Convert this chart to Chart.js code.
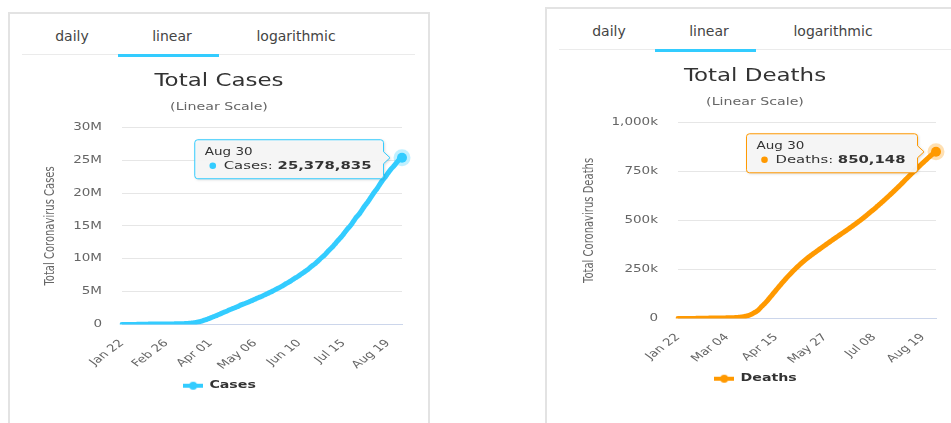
<!DOCTYPE html>
<html>
<head>
<meta charset="utf-8">
<script src="https://cdn.jsdelivr.net/npm/chart.js@4.4.1/dist/chart.umd.min.js"></script>
<style>
  html, body { margin: 0; background: #fff; }
  body { position: relative; width: 951px; height: 423px; overflow: hidden; font-family: "DejaVu Sans", sans-serif; }
  .card { position: absolute; height: 440px; border: 2px solid #e3e3e3; box-sizing: border-box; }
  .tabs { position: absolute; height: 36px; border-bottom: 1px solid #ebebeb; }
  .tab { position: absolute; width: 100px; line-height: 36px; text-align: center; font-size: 14px; color: #444; }
  .underline { position: absolute; height: 3px; background: #33ccff; }
  .chart-box { position: absolute; }
</style>
</head>
<body>
  <div class="card" style="left:8px; top:12px; width:422px"></div>
  <div class="tabs" style="left:22px; top:18px; width:393px"></div>
  <span class="tab" style="left:22px; top:18px">daily</span>
  <span class="tab" style="left:122px; top:18px">linear</span>
  <span class="tab" style="left:246px; top:18px">logarithmic</span>
  <div class="underline" style="left:118px; top:54px; width:101px"></div>
  <div class="chart-box" style="left:9px; top:60px; width:420px; height:341px"><canvas id="cases-chart"></canvas></div>

  <div class="card" style="left:545px; top:7px; width:440px"></div>
  <div class="tabs" style="left:559px; top:13px; width:392px"></div>
  <span class="tab" style="left:559px; top:13px">daily</span>
  <span class="tab" style="left:659px; top:13px">linear</span>
  <span class="tab" style="left:783px; top:13px">logarithmic</span>
  <div class="underline" style="left:655px; top:49px; width:101px"></div>
  <div class="chart-box" style="left:546px; top:55px; width:418px; height:339px"><canvas id="deaths-chart"></canvas></div>

<script>
// daily totals, Jan 22 .. Aug 30
const totalCases = [
  580, 845, 1320, 2010, 2800, 4580, 6060, 7820, 9830, 11950,
  14550, 17390, 20630, 24550, 28280, 31530, 34880, 37560, 40550, 43100, 45170, 60380, 66890, 69030, 71230,
  73270, 75150, 75650, 76200, 76840, 78580, 78970, 79560, 80410, 81360, 82740, 84120, 86010, 88370,
  90310, 92840, 95120, 97890, 101780, 105850, 109990, 114290, 118620, 125850, 128350, 145210, 156100, 167450,
  181530, 197150, 214910, 242710, 272170, 304980, 336960, 378230, 418040, 467650, 529590, 593290, 660690,
  720120, 782370, 857490, 932610,
  1015000, 1098000, 1174000, 1252000, 1323000, 1396000, 1476000, 1563000, 1653000, 1737000,
  1832000, 1903000, 1976000, 2056000, 2152000, 2240000, 2317000, 2401000, 2472000, 2549000,
  2625000, 2708000, 2795000, 2897000, 2986000, 3064000, 3128000, 3195000, 3269000, 3348000,
  3431000, 3517000, 3595000, 3672000, 3758000, 3849000, 3942000, 4032000, 4117000, 4192000,
  4268000, 4353000, 4446000, 4542000, 4638000, 4728000, 4809000, 4899000, 4995000, 5097000,
  5203000, 5308000, 5405000, 5504000, 5593000, 5688000, 5793000, 5909000, 6034000, 6163000, 6267000,
  6373000, 6490000, 6612000, 6740000, 6870000, 6999000, 7112000, 7215000, 7337000, 7474000,
  7611000, 7743000, 7878000, 8007000, 8141000, 8284000, 8426000, 8574000, 8757000, 8914000,
  9049000, 9186000, 9354000, 9523000, 9705000, 9897000, 10083000, 10247000, 10414000, 10585000,
  10795000, 11003000, 11218000, 11414000, 11597000, 11790000, 12007000, 12227000, 12456000, 12687000,
  12905000, 13109000, 13318000, 13550000, 13796000, 14050000, 14306000, 14545000, 14757000, 14973000,
  15218000, 15504000, 15787000, 16073000, 16333000, 16543000, 16763000, 17016000, 17305000, 17596000, 17889000,
  18150000, 18400000, 18650000, 18930000, 19220000, 19520000, 19820000, 20100000, 20350000, 20600000,
  20880000, 21180000, 21480000, 21770000, 22040000, 22280000, 22510000, 22780000, 23060000, 23330000,
  23580000, 23800000, 24000000, 24220000, 24450000, 24700000, 24930000, 25120000, 25270000, 25378835,
];

const totalDeaths = [
  17, 25, 41, 56, 80, 106, 132, 170, 213, 259,
  304, 362, 426, 492, 565, 638, 724, 813, 910, 1018, 1115, 1261, 1383, 1526, 1669,
  1775, 1873, 2009, 2126, 2247, 2360, 2460, 2618, 2699, 2763, 2800, 2858, 2924, 2977,
  3050, 3117, 3202, 3285, 3387, 3494, 3599, 3827, 4025, 4296, 4628, 5078, 5453, 5835, 6516, 7143,
  7991, 8977, 10038, 11393, 13061, 14770, 16629, 18933, 22052, 24997, 28365, 31819, 35359, 39636, 44507,
  50324, 56809, 62926, 68909, 74624, 80900, 87500, 94300, 101500, 108600,
  115800, 123000, 130200, 137400, 144600, 151800, 159000, 166000, 173000, 180000,
  186800, 193500, 200200, 206800, 213300, 219700, 226000, 232200, 238300, 244300,
  250200, 256000, 261700, 267300, 272800, 278200, 283500, 288700, 293800, 298800,
  303700, 308500, 313200, 317800, 322300, 326700, 331000, 335300, 339600, 343900,
  348200, 352500, 356800, 361100, 365400, 369700, 374000, 378200, 382400, 386600, 390800,
  395000, 399100, 403200, 407300, 411400, 415500, 419600, 423700, 427800, 431900,
  436000, 440100, 444200, 448300, 452400, 456600, 460800, 465000, 469300, 473600,
  477900, 482300, 486700, 491100, 495600, 500100, 504600, 509200, 513800, 518600,
  523600, 528600, 533800, 538700, 543500, 548300, 553100, 557900, 563200, 568500,
  573800, 578900, 584000, 589300, 594600, 599900, 605300, 610700, 616100, 621600,
  627100, 632700, 638300, 643900, 649500, 655200, 660900, 666600, 672400, 678300, 684300,
  690300, 696300, 702300, 708300, 714300, 720300, 726200, 732100, 738000, 743800,
  749600, 755400, 761200, 766900, 772600, 778300, 784000, 789600, 795200, 800700,
  806200, 811700, 817100, 822500, 827900, 833300, 838100, 842500, 846500, 850148,
];

const caseTickLabels = ["Jan 22", "Feb 26", "Apr 01", "May 06", "Jun 10", "Jul 15", "Aug 19"];
const deathTickLabels = ["Jan 22", "Mar 04", "Apr 15", "May 27", "Jul 08", "Aug 19"];

const monthNames = ["Jan", "Feb", "Mar", "Apr", "May", "Jun", "Jul", "Aug", "Sep", "Oct", "Nov", "Dec"];
const days = [];
for (let d = new Date(2020, 0, 22); days.length < totalCases.length; d.setDate(d.getDate() + 1)) {
  days.push(`${monthNames[d.getMonth()]} ${String(d.getDate()).padStart(2, "0")}`);
}

Chart.defaults.font.family = '"DejaVu Sans", sans-serif';
Chart.defaults.color = "#666";

// the reference screenshot has all chart text stretched sideways
const TEXT_STRETCH = 1.35;

const textStretch = {
  id: "textStretch",
  beforeInit(chart) {
    const ctx = chart.ctx;
    const fill = ctx.fillText.bind(ctx);
    const measure = ctx.measureText.bind(ctx);
    ctx.fillText = (text, x, y, maxWidth) => {
      const m = ctx.getTransform();
      const p = m.transformPoint(new DOMPoint(x, y));
      ctx.save();
      ctx.setTransform(new DOMMatrix().translate(p.x, 0).scale(TEXT_STRETCH, 1).translate(-p.x, 0).multiply(m));
      if (maxWidth === undefined) fill(text, x, y);
      else fill(text, x, y, maxWidth / TEXT_STRETCH);
      ctx.restore();
    };
    ctx.measureText = (text) => {
      const m = measure(text);
      return {
        width: m.width * TEXT_STRETCH,
        actualBoundingBoxAscent: m.actualBoundingBoxAscent,
        actualBoundingBoxDescent: m.actualBoundingBoxDescent,
        actualBoundingBoxLeft: m.actualBoundingBoxLeft * TEXT_STRETCH,
        actualBoundingBoxRight: m.actualBoundingBoxRight * TEXT_STRETCH,
      };
    };
  },
};

// hovered last point with its callout, like the highcharts tooltip
const lastPointTooltip = {
  id: "lastPointTooltip",
  afterDraw(chart) {
    const ctx = chart.ctx;
    const ds = chart.data.datasets[0];
    const meta = chart.getDatasetMeta(0);
    const i = meta.data.length - 1;
    const { x, y } = meta.data[i].getProps(["x", "y"], true);
    const color = ds.borderColor;

    ctx.save();
    ctx.globalAlpha = 0.3;
    ctx.fillStyle = color;
    ctx.beginPath();
    ctx.arc(x, y, 8.5, 0, Math.PI * 2);
    ctx.fill();
    ctx.globalAlpha = 1;
    ctx.beginPath();
    ctx.arc(x, y, 5, 0, Math.PI * 2);
    ctx.fill();

    const name = ds.label + ": ";
    const value = ds.data[i].toLocaleString("en-US");
    ctx.font = '11px "DejaVu Sans"';
    const nameW = ctx.measureText(name).width;
    ctx.font = 'bold 11px "DejaVu Sans"';
    const valueW = ctx.measureText(value).width;

    const right = x - 18.5;
    const left = right - (29 + nameW + valueW + 12);
    const top = y - 18;
    const bottom = y + 21;
    const r = 3;

    ctx.beginPath();
    ctx.moveTo(left + r, top);
    ctx.lineTo(right - r, top);
    ctx.quadraticCurveTo(right, top, right, top + r);
    ctx.lineTo(right, y - 6);
    ctx.lineTo(right + 6.5, y);
    ctx.lineTo(right, y + 6);
    ctx.lineTo(right, bottom - r);
    ctx.quadraticCurveTo(right, bottom, right - r, bottom);
    ctx.lineTo(left + r, bottom);
    ctx.quadraticCurveTo(left, bottom, left, bottom - r);
    ctx.lineTo(left, top + r);
    ctx.quadraticCurveTo(left, top, left + r, top);
    ctx.closePath();
    ctx.shadowColor = "rgba(0, 0, 0, 0.18)";
    ctx.shadowBlur = 3;
    ctx.shadowOffsetX = 1;
    ctx.shadowOffsetY = 1;
    ctx.fillStyle = "rgba(247, 247, 247, 0.95)";
    ctx.fill();
    ctx.shadowColor = "transparent";
    ctx.strokeStyle = color;
    ctx.lineWidth = 1;
    ctx.stroke();

    ctx.textAlign = "left";
    ctx.textBaseline = "middle";
    ctx.fillStyle = "#333";
    ctx.font = '10px "DejaVu Sans"';
    ctx.fillText(chart.data.labels[i], left + 10, top + 13);
    ctx.fillStyle = color;
    ctx.beginPath();
    ctx.arc(left + 18, top + 26, 3.3, 0, Math.PI * 2);
    ctx.fill();
    ctx.fillStyle = "#333";
    ctx.font = '11px "DejaVu Sans"';
    ctx.fillText(name, left + 29, top + 26);
    ctx.font = 'bold 11px "DejaVu Sans"';
    ctx.fillText(value, left + 29 + nameW, top + 26);
    ctx.restore();
  },
};

function legendIcon(color) {
  const c = document.createElement("canvas");
  c.width = 20;
  c.height = 10;
  const g = c.getContext("2d");
  g.strokeStyle = color;
  g.fillStyle = color;
  g.lineWidth = 4;
  g.beginPath();
  g.moveTo(0, 5);
  g.lineTo(20, 5);
  g.stroke();
  g.beginPath();
  g.arc(10, 5, 4, 0, Math.PI * 2);
  g.fill();
  return c;
}

function buildChart(canvasId, cfg) {
  return new Chart(document.getElementById(canvasId), {
    type: "line",
    data: {
      labels: days,
      datasets: [
        {
          label: cfg.name,
          data: cfg.values,
          borderColor: cfg.color,
          backgroundColor: cfg.color,
          borderWidth: 5,
          borderJoinStyle: "round",
          borderCapStyle: "round",
          pointRadius: 0,
          cubicInterpolationMode: "monotone",
        },
      ],
    },
    options: {
      responsive: true,
      maintainAspectRatio: false,
      animation: false,
      events: [],
      layout: { padding: { left: cfg.sidePad, right: cfg.sidePad, top: 0, bottom: 0 } },
      plugins: {
        title: {
          display: true,
          text: cfg.title,
          color: "#333",
          font: { size: 17, weight: "normal" },
          padding: { top: 11.8, bottom: 0 },
        },
        subtitle: {
          display: true,
          text: "(Linear Scale)",
          color: "#666",
          font: { size: 10.5 },
          padding: { top: 9.2, bottom: 13.4 },
        },
        legend: {
          position: "bottom",
          labels: {
            usePointStyle: true,
            pointStyle: legendIcon(cfg.color),
            pointStyleWidth: 22,
            color: "#333",
            font: { size: 10.5, weight: "bold" },
            padding: 10,
          },
        },
        tooltip: { enabled: false },
      },
      scales: {
        x: {
          grid: { display: false },
          border: { color: "#ccd6eb", width: 1 },
          ticks: {
            autoSkip: false,
            minRotation: 45,
            maxRotation: 45,
            padding: 5,
            color: "#666",
            font: { size: 10 },
            callback: (value, index) => (cfg.xTicks.includes(days[index]) ? days[index] : null),
          },
          afterFit: (scale) => { scale.height = cfg.xAxisHeight; },
        },
        y: {
          min: 0,
          max: cfg.yMax,
          grid: { color: "#e6e6e6", drawTicks: false },
          border: { display: false },
          ticks: {
            stepSize: cfg.yStep,
            padding: 20,
            color: "#666",
            font: { size: 10 },
            callback: cfg.yFormat,
          },
          title: {
            display: true,
            text: cfg.yTitle,
            color: "#666",
            font: { size: 10 },
            padding: { top: cfg.yTitlePad, bottom: 0 },
          },
          afterFit: (scale) => { scale.width = cfg.yAxisWidth; },
        },
      },
    },
    plugins: [textStretch, lastPointTooltip],
  });
}

document.addEventListener("DOMContentLoaded", () => {
  buildChart("cases-chart", {
    name: "Cases",
    title: "Total Cases",
    yTitle: "Total Coronavirus Cases",
    values: totalCases,
    color: "#33ccff",
    xTicks: caseTickLabels,
    yMax: 30000000,
    yStep: 5000000,
    yFormat: (v) => (v === 0 ? "0" : v / 1000000 + "M"),
    sidePad: 27,
    yAxisWidth: 86,
    yTitlePad: 8,
    xAxisHeight: 46,
  });

  buildChart("deaths-chart", {
    name: "Deaths",
    title: "Total Deaths",
    yTitle: "Total Coronavirus Deaths",
    values: totalDeaths,
    color: "#ff9900",
    xTicks: deathTickLabels,
    yMax: 1000000,
    yStep: 250000,
    yFormat: (v) => (v === 0 ? "0" : (v / 1000).toLocaleString("en-US") + "k"),
    sidePad: 28,
    yAxisWidth: 104,
    yTitlePad: 9,
    xAxisHeight: 45,
  });
});
</script>
</body>
</html>
